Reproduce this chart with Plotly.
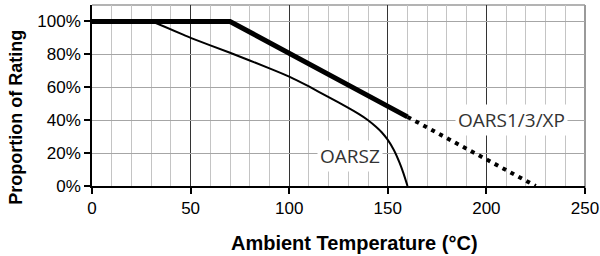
import plotly.graph_objects as go

# Data
main_x = [0, 70, 160]
main_y = [1.0, 1.0, 0.42]
ext_x = [160, 225]
ext_y = [0.42, 0.0]
oarsz_x = [0, 30, 50, 70, 90, 100, 110, 120, 130, 135, 140, 144, 147, 150, 153, 156, 158, 160]
oarsz_y = [1.0, 1.0, 0.90, 0.81, 0.715, 0.665, 0.605, 0.54, 0.475, 0.44, 0.40, 0.36, 0.325, 0.28, 0.22, 0.14, 0.075, 0.0]
x_ticks = [0, 50, 100, 150, 200, 250]
y_ticks = [0, 0.2, 0.4, 0.6, 0.8, 1.0]
label_main = "OARS1/3/XP"
label_z = "OARSZ"
x_title = "Ambient Temperature (°C)"
y_title = "Proportion of Rating"

fig = go.Figure()
fig.add_trace(go.Scatter(x=oarsz_x, y=oarsz_y, mode="lines",
                         line=dict(color="black", width=2, shape="spline", smoothing=0.3),
                         showlegend=False, hoverinfo="skip"))
fig.add_trace(go.Scatter(x=ext_x, y=ext_y, mode="lines",
                         line=dict(color="black", width=4, dash="4px,5px"),
                         showlegend=False, hoverinfo="skip"))
fig.add_trace(go.Scatter(x=main_x, y=main_y, mode="lines",
                         line=dict(color="black", width=5),
                         showlegend=False, hoverinfo="skip"))

fig.add_annotation(x=212.5, y=0.40, text=label_main, showarrow=False,
                   font=dict(family="Open Sans", size=19, color="#333"),
                   bgcolor="white", borderpad=2)
fig.add_annotation(x=130.8, y=0.18, text=label_z, showarrow=False,
                   font=dict(family="Open Sans", size=19, color="#333"),
                   bgcolor="white", borderpad=2)

# axis titles (positioned as in the reference)
fig.add_annotation(xref="paper", yref="paper", x=0.5325, y=-0.315,
                   xanchor="center", yanchor="middle", showarrow=False,
                   text="<b>" + x_title + "</b>", font=dict(size=20, color="black"))
fig.add_annotation(xref="paper", yref="paper", x=-0.154, y=0.378,
                   xanchor="center", yanchor="middle", showarrow=False, textangle=-90,
                   text="<b>" + y_title + "</b>", font=dict(size=18, color="black"))

# borders
fig.add_shape(type="line", xref="paper", yref="paper", x0=0, x1=1, y0=1, y1=1,
              line=dict(color="#9a9a9a", width=1.5), layer="between")
fig.add_shape(type="line", xref="paper", yref="paper", x0=1, x1=1, y0=-0.03, y1=1,
              line=dict(color="#9a9a9a", width=2), layer="between")

fig.update_layout(
    width=600, height=256,
    margin=dict(l=92, r=15, t=5, b=70, autoexpand=False),
    paper_bgcolor="white", plot_bgcolor="white",
    font=dict(family="Liberation Sans, Arial", size=17, color="black"),
)
fig.update_xaxes(
    range=[0, 250], tickvals=x_ticks, ticktext=[str(v) for v in x_ticks],
    showgrid=True, gridcolor="#333", gridwidth=1,
    minor=dict(dtick=10, showgrid=True, gridcolor="#c4c4c4", gridwidth=1),
    showline=True, linecolor="black", linewidth=1.5,
    ticks="outside", ticklen=6, tickcolor="black", tickwidth=1.5,
    zeroline=False, automargin=False,
)
fig.update_yaxes(
    range=[0, 1.1], tickvals=y_ticks, tickformat=".0%",
    showgrid=True, gridcolor="#a6a6a6", gridwidth=1,
    showline=True, linecolor="black", linewidth=1.5,
    ticks="outside", ticklen=6, tickcolor="black", tickwidth=1.5,
    zeroline=False, automargin=False,
)

fig.write_html("out.html", config={"displayModeBar": False},
               post_script="document.body.style.margin='0';")
